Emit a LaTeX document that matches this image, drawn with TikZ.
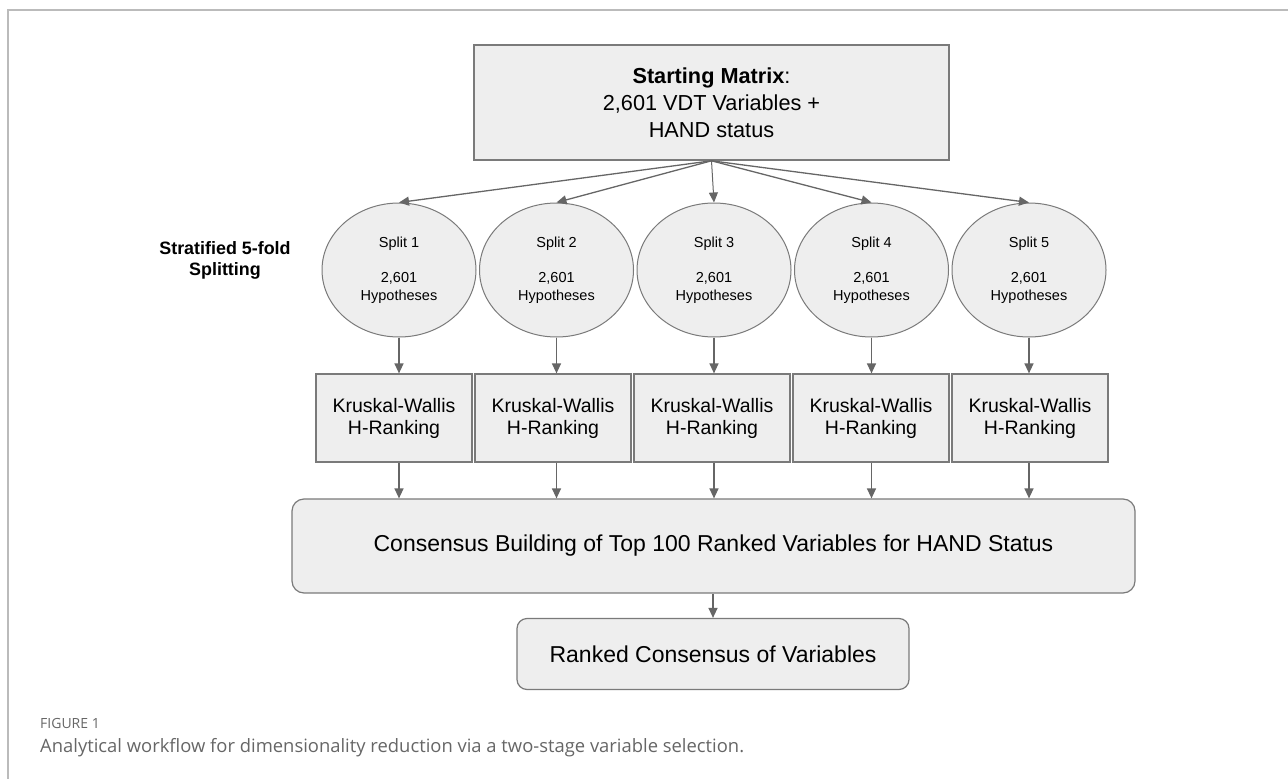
\documentclass[tikz,border=0pt]{standalone}
\usepackage{fontspec}
\setmainfont{Liberation Sans}
\newfontfamily\capfont{Open Sans}
\usetikzlibrary{shapes.geometric,arrows.meta}
\definecolor{boxfill}{HTML}{EEEEEE}
\definecolor{boxline}{HTML}{7A7A7A}
\definecolor{arrowcol}{HTML}{666666}
\definecolor{framecol}{HTML}{BBBBBB}
\definecolor{captxt}{HTML}{666666}
\tikzset{
  box/.style={draw=boxline, fill=boxfill, line width=1.2pt, inner sep=0pt, align=center},
  kwbox/.style={box, minimum width=156pt, minimum height=88pt, font=\fontsize{19.5}{22}\selectfont},
  splitnode/.style={ellipse, draw=boxline, fill=boxfill, line width=1pt, inner sep=0pt,
     minimum width=154pt, minimum height=134pt, align=center, font=\fontsize{14.5}{17.5}\selectfont},
  roundbox/.style={box, rounded corners=12pt, font=\fontsize{23}{26}\selectfont},
  conn/.style={draw=arrowcol, line width=1.3pt, -{Triangle[length=10pt,width=9pt]}},
}
\begin{document}
\begin{tikzpicture}[x=1pt,y=-1pt]
\useasboundingbox (0,0) rectangle (1288,779);
\draw[framecol, line width=1.5pt] (8,779) -- (8,10) -- (1288,10);

\node[box, line width=1.6pt, minimum width=475pt, minimum height=115pt,
      font=\fontsize{21.7}{27}\selectfont] (top) at (711.5,102.5)
  {\textbf{Starting Matrix}:\\2,601 VDT Variables +\\HAND status};

\node[align=center, font=\fontsize{17.9}{21}\selectfont\bfseries] (strat) at (225,260)
  {Stratified 5-fold\\Splitting};

\foreach \i/\ex/\kx in {1/399/394, 2/556.5/553, 3/714/712, 4/871.5/871, 5/1029/1030}{
  \node[splitnode] (e\i) at (\ex,270) {Split \i\\[17.5pt]2,601\\Hypotheses};
  \node[kwbox] (k\i) at (\kx,418) {Kruskal-Wallis\\H-Ranking};
}

\node[roundbox, minimum width=843pt, minimum height=94pt]
  (cons) at (713.5,546) {Consensus Building of Top 100 Ranked Variables for HAND Status};
\node[roundbox, rounded corners=10pt, minimum width=392pt, minimum height=71pt]
  (rank) at (713,654) {Ranked Consensus of Variables};

\foreach \i in {1,2,4,5}{
  \draw[conn] (top.south) -- (e\i.north);
}
\draw[conn, line width=1pt] (top.south) -- (e3.north);
\foreach \i in {1,...,5}{
  \draw[conn] (e\i.south) -- (e\i.south |- k\i.north);
  \draw[conn] (e\i.south |- k\i.south) -- (e\i.south |- cons.north);
}
\draw[conn] (cons.south -| rank.north) -- (rank.north);

\node[anchor=west, inner sep=0pt, text=captxt, font=\capfont\fontsize{14}{16}\selectfont] (figlab) at (40,723) {FIGURE 1};
\node[anchor=west, inner sep=0pt, text=captxt, font=\capfont\fontsize{18.4}{21}\selectfont] (cap) at (40,748)
  {Analytical workflow for dimensionality reduction via a two-stage variable selection.};
\end{tikzpicture}
\end{document}
